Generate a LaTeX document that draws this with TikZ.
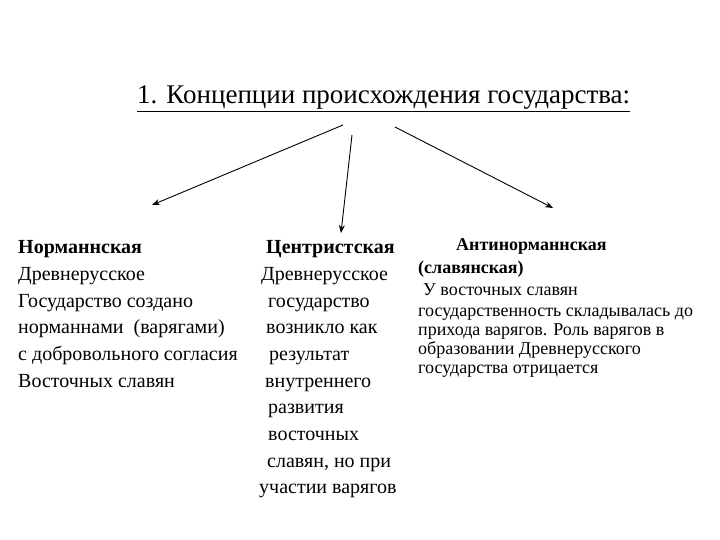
\documentclass[tikz,border=0pt]{standalone}
\usepackage{fontspec}
\newfontfamily\tms{Liberation Serif}
\usetikzlibrary{arrows.meta}
\begin{document}
\begin{tikzpicture}[x=1pt,y=-1pt,
 t/.style={anchor=base west,inner sep=0pt,font=\tms\fontsize{20}{22}\selectfont},
 r/.style={anchor=base west,inner sep=0pt,font=\tms\fontsize{18}{20}\selectfont},
 arr/.style={-{Stealth[length=8pt,width=6pt]},line width=0.9pt}]
\useasboundingbox (0,0) rectangle (720,540);
\clip (0,0) rectangle (720,540);
\node[anchor=base west,inner sep=0pt,font=\tms\fontsize{27}{29}\selectfont] (title) at (137,104) {\underline{1. Концепции происхождения государства:}};
\coordinate (a1) at (343,125); \coordinate (b1) at (152,205);
\coordinate (a2) at (352,135); \coordinate (b2) at (341,233);
\coordinate (a3) at (395,127); \coordinate (b3) at (553,208);
\draw[arr] (a1) -- (b1);
\draw[arr] (a2) -- (b2);
\draw[arr] (a3) -- (b3);
\node[t] (l1) at (18,253) {\textbf{Норманнская}};
\node[t] (l2) at (18,280) {Древнерусское};
\node[t] (l3) at (18,307) {Государство создано};
\node[t] (l4) at (18,333) {норманнами\ \ (варягами)};
\node[t] (l5) at (18,360) {с добровольного согласия};
\node[t] (l6) at (18,387) {Восточных славян};
\node[t] (m1) at (266,253) {\textbf{Центристская}};
\node[t] (m2) at (261,280) {Древнерусское};
\node[t] (m3) at (268,307) {государство};
\node[t] (m4) at (266,333) {возникло как};
\node[t] (m5) at (269,360) {результат};
\node[t] (m6) at (265,387) {внутреннего};
\node[t] (m7) at (268,413) {развития};
\node[t] (m8) at (268,440) {восточных};
\node[t] (m9) at (267,467) {славян, но при};
\node[t] (m10) at (259,493) {участии варягов};
\node[r] (r1) at (456,251) {\textbf{Антинорманнская}};
\node[r] (r2) at (418,273) {\textbf{(славянская)}};
\node[r] (r3) at (423,295) {У восточных славян};
\node[r] (r4) at (418,316) {государственность складывалась до};
\node[r] (r5) at (418,335) {прихода варягов. Роль варягов в};
\node[r] (r6) at (418,354) {образовании Древнерусского};
\node[r] (r7) at (418,373) {государства отрицается};
\end{tikzpicture}
\end{document}
